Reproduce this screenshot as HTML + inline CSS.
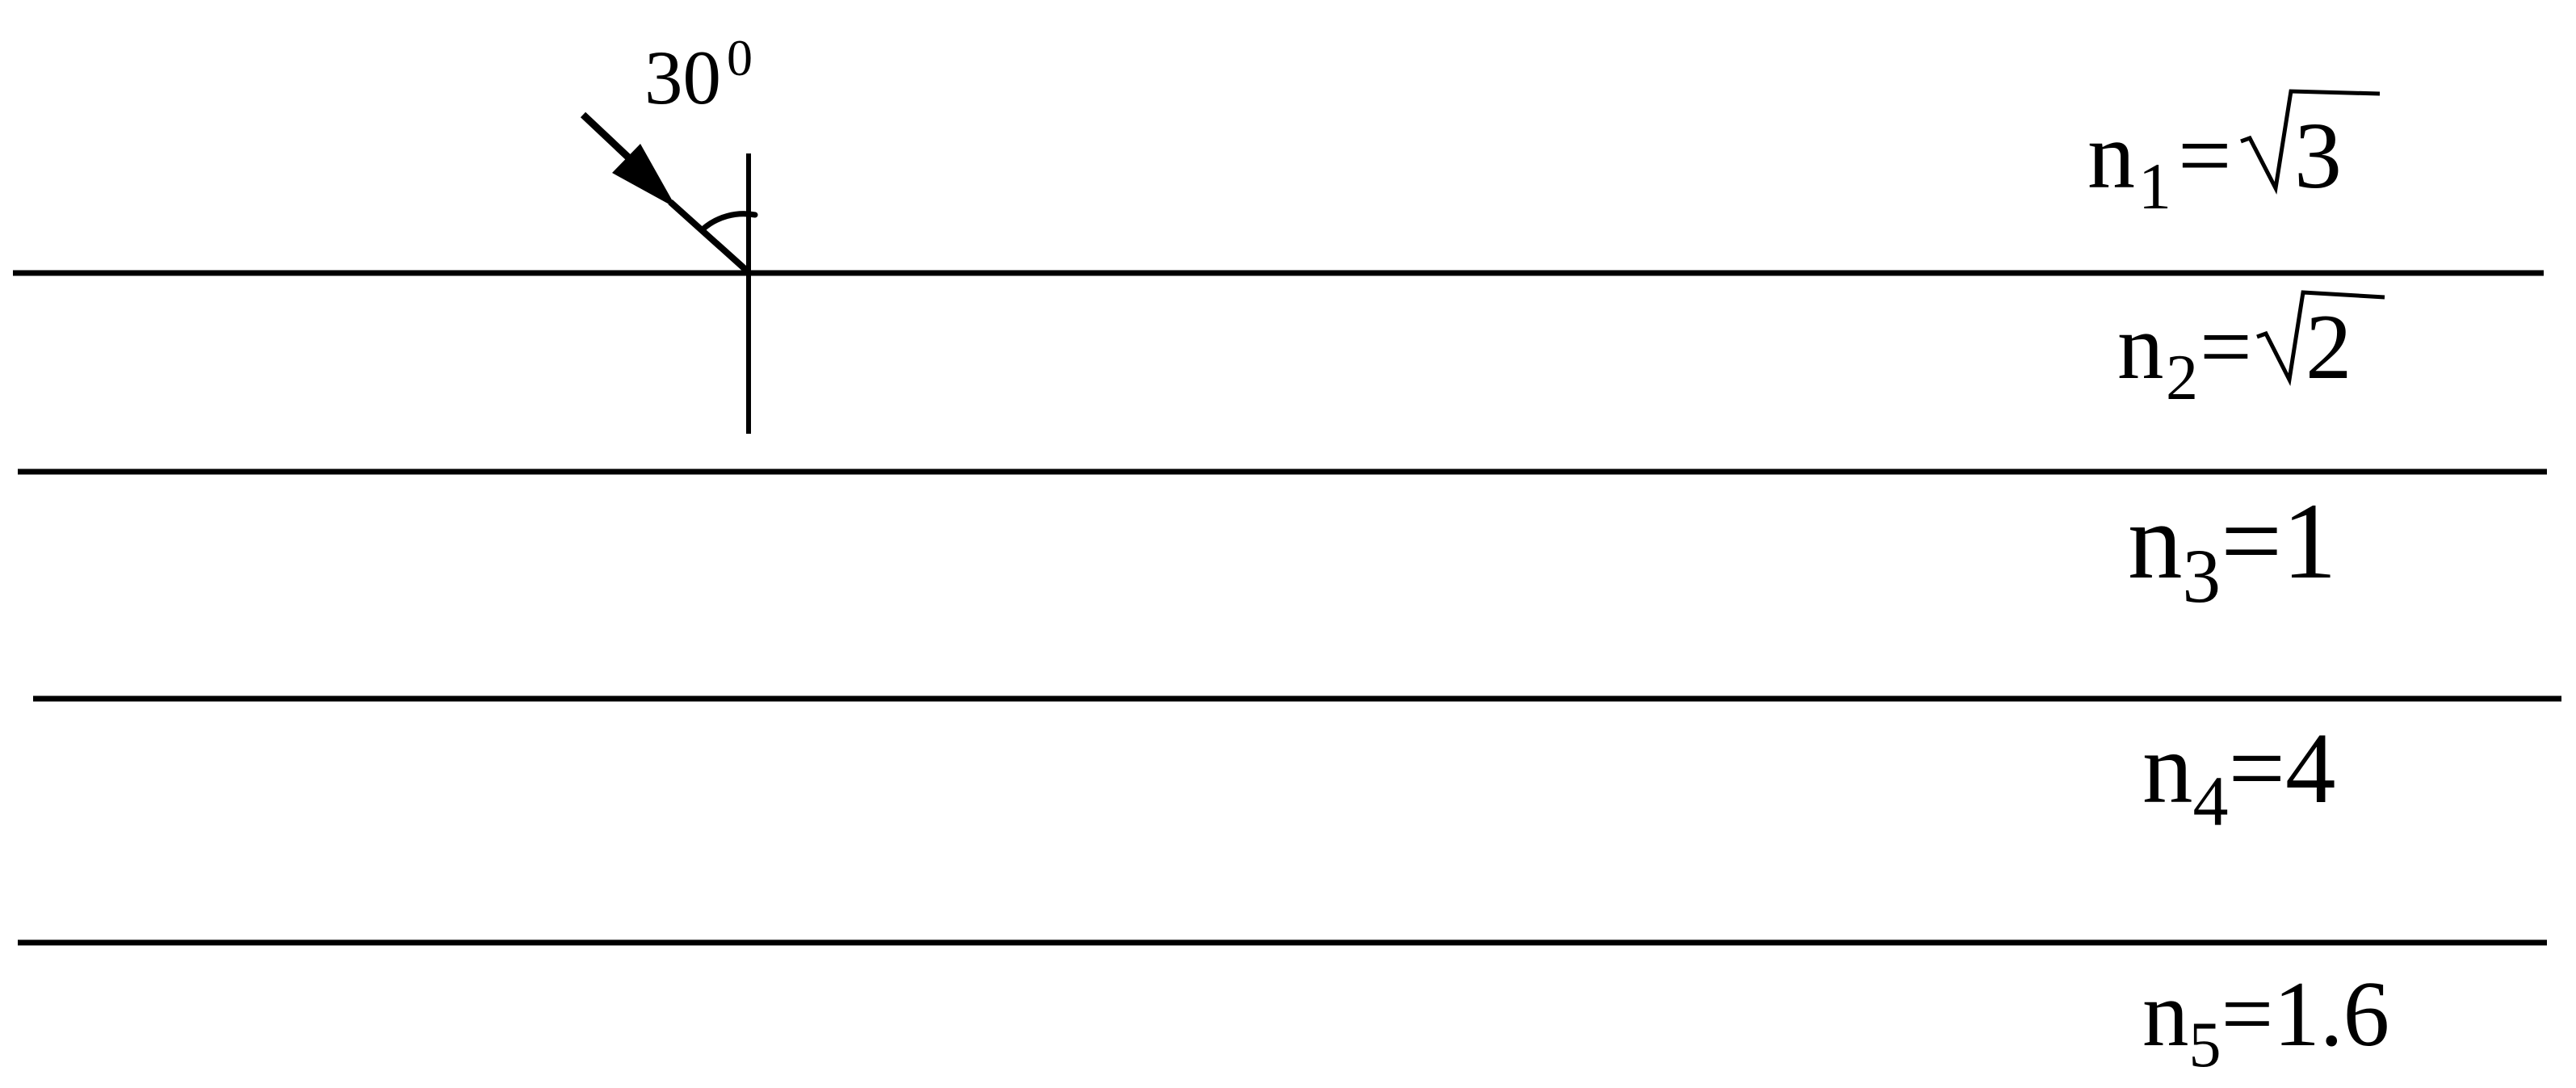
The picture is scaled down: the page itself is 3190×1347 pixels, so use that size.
<!DOCTYPE html>
<html><head><meta charset="utf-8"><style>
html,body{margin:0;padding:0;background:#fff;}
svg{display:block;}
text{font-family:"Liberation Serif",serif;fill:#000;}
</style></head><body>
<svg width="3190" height="1347" viewBox="0 0 3190 1347" xmlns="http://www.w3.org/2000/svg">
<g stroke="#000" stroke-width="7" fill="none">
<line x1="16" y1="338" x2="3150" y2="338"/>
<line x1="22" y1="584" x2="3154" y2="584"/>
<line x1="41" y1="865" x2="3172" y2="865"/>
<line x1="22" y1="1167" x2="3154" y2="1167"/>
<line x1="927" y1="190" x2="927" y2="537" stroke-width="6"/>
<line x1="722" y1="142" x2="790" y2="206" stroke-width="9"/>
<line x1="830" y1="250" x2="927" y2="337" stroke-width="8"/>
<path d="M870,284 A77,77 0 0 1 935,266" stroke-width="7" stroke-linecap="round"/>
<polyline points="2775,175 2786,171 2818,233 2837,113 2947,116" stroke-width="5"/>
<polyline points="2795,417 2806,413 2835,470 2852,362 2953,368" stroke-width="5"/>
</g>
<polygon points="758,214 793,178 838,258" fill="#000"/>
<text x="798" y="128" font-size="95">30</text>
<text x="900" y="93" font-size="64">0</text>

<text x="2585" y="232" font-size="118">n</text>
<text x="2648" y="258" font-size="82">1</text>
<text x="2697" y="232" font-size="118" textLength="70">=</text>
<text x="2841" y="232" font-size="118">3</text>

<text x="2622" y="468" font-size="115">n</text>
<text x="2682" y="494" font-size="80">2</text>
<text x="2724" y="468" font-size="115" textLength="66">=</text>
<text x="2855" y="468" font-size="115">2</text>

<text x="2635" y="715" font-size="135">n<tspan font-size="95" dy="30">3</tspan><tspan dy="-30">=1</tspan></text>
<text x="2653" y="993" font-size="125">n<tspan font-size="88" dy="28">4</tspan><tspan dy="-28">=4</tspan></text>
<text x="2653" y="1294" font-size="115">n<tspan font-size="80" dy="26">5</tspan><tspan dy="-26">=1.6</tspan></text>
</svg>
</body></html>
